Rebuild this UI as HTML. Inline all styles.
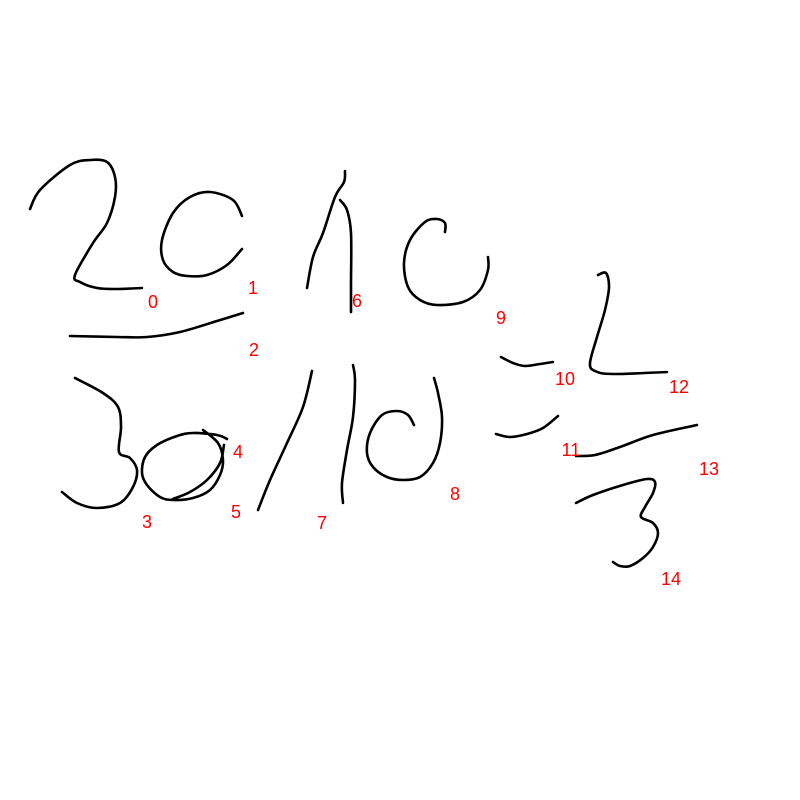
<!DOCTYPE html>
<html><head><meta charset="utf-8"><style>
html,body{margin:0;padding:0;background:#fff;}
svg{display:block;}
text{font-family:"Liberation Sans",sans-serif;font-size:18px;fill:#ff0000;}
</style></head><body>
<svg id="c" width="800" height="800" viewBox="0 0 800 800"></svg>
<script>
const strokeIds = [0,1,2,3,4,5,6,6,7,7,8,9,10,11,12,13,14];
const strokePoints = [
 [[30,209],[40,190],[70,165],[90,160],[107,162],[115,177],[115,197],[107,223],[93,243],[75,275],[80,282],[97,288],[117,289],[142,288]],
 [[242,216],[233,200],[210,192],[190,197],[173,213],[162,240],[163,260],[173,272],[187,276],[207,275],[227,265],[242,249]],
 [[70,336],[117,337],[147,337],[180,332],[217,321],[243,313]],
 [[75,378],[103,393],[118,407],[121,427],[119,452],[130,458],[137,470],[133,487],[120,503],[97,508],[77,503],[62,492]],
 [[227,439],[217,435],[193,433],[177,436],[157,445],[145,457],[142,473],[147,485],[160,497],[173,500],[193,498],[210,490],[220,475],[223,460],[218,443],[203,430]],
 [[224,445],[220,463],[207,480],[190,492],[173,499]],
 [[345,171],[344,182],[335,197],[323,233],[313,257],[307,288]],
 [[340,200],[347,210],[351,233],[351,283],[351,312]],
 [[312,371],[303,407],[287,443],[270,480],[258,510]],
 [[353,365],[355,380],[353,417],[347,450],[342,483],[343,503]],
 [[414,425],[408,415],[397,411],[382,415],[370,433],[367,453],[373,467],[387,477],[403,480],[420,477],[433,463],[440,443],[442,417],[438,393],[434,378]],
 [[445,232],[445,223],[437,219],[425,222],[410,240],[404,263],[408,287],[420,300],[437,305],[463,302],[480,290],[488,270],[488,257]],
 [[501,357],[513,363],[525,366],[540,364],[553,362]],
 [[496,434],[510,437],[527,434],[543,428],[558,416]],
 [[598,275],[606,273],[609,287],[605,310],[597,337],[590,363],[595,371],[613,374],[667,372]],
 [[576,456],[595,455],[620,447],[653,435],[697,425]],
 [[576,503],[593,495],[623,485],[647,479],[655,482],[653,493],[645,507],[641,517],[653,523],[658,533],[653,547],[643,558],[630,566],[620,566],[613,562]]
];
const labelTexts = ["0","1","2","3","4","5","6","7","8","9","10","11","12","13","14"];
const labelPos = [[153,301],[253,287],[254,349],[147,521],[238,451],[236,511],[357,300],[322,522],[455,493],[501,317],[565,378],[571,449],[679,386],[709,468],[671,578]];
const NS="http://www.w3.org/2000/svg";
const svg=document.getElementById('c');
function smooth(pts){
  let d='M'+pts[0][0]+','+pts[0][1];
  for(let i=0;i<pts.length-1;i++){
    const p0=pts[Math.max(0,i-1)],p1=pts[i],p2=pts[i+1],p3=pts[Math.min(pts.length-1,i+2)];
    const c1=[p1[0]+(p2[0]-p0[0])/6,p1[1]+(p2[1]-p0[1])/6];
    const c2=[p2[0]-(p3[0]-p1[0])/6,p2[1]-(p3[1]-p1[1])/6];
    d+=' C'+c1.join(',')+' '+c2.join(',')+' '+p2.join(',');
  }
  return d;
}
strokePoints.forEach((pts,i)=>{
  const p=document.createElementNS(NS,'path');
  p.setAttribute('d',smooth(pts));
  p.setAttribute('fill','none');
  p.setAttribute('stroke','#000');
  p.setAttribute('stroke-width','2.6');
  p.setAttribute('stroke-linejoin','round');
  p.setAttribute('stroke-linecap','round');
  
  
  svg.appendChild(p);
});
labelTexts.forEach((t,i)=>{
  const e=document.createElementNS(NS,'text');
  e.setAttribute('x',labelPos[i][0]);
  e.setAttribute('y',labelPos[i][1]+7);
  e.setAttribute('text-anchor','middle');
  e.textContent=t;
  
  
  svg.appendChild(e);
});
</script>
</body></html>
